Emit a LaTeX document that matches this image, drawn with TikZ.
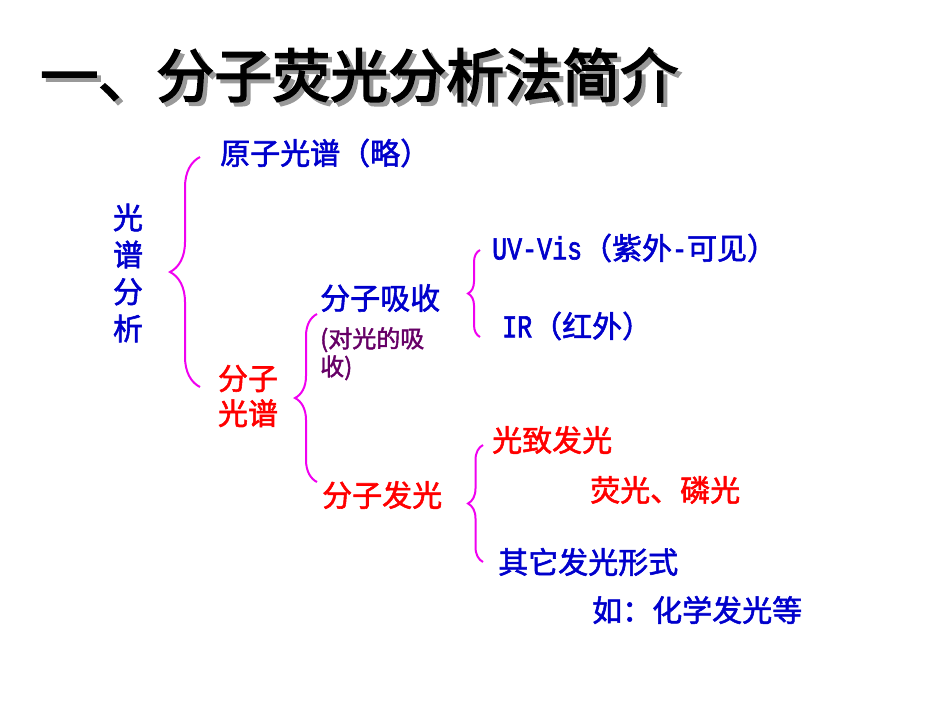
\documentclass[tikz,border=0pt]{standalone}
\usepackage{fontspec}
\usetikzlibrary{decorations.pathreplacing}
\newfontfamily\cjk{Noto Sans CJK SC}[FakeBold=1.8]
\newfontfamily\cjktitle{Noto Sans CJK SC}[FakeBold=3]
\newfontfamily\latmono{Liberation Mono}[FakeBold=2, FakeStretch=0.78]
\definecolor{SpecBlue}{RGB}{0,0,204}
\definecolor{SpecRed}{RGB}{255,0,0}
\definecolor{SpecPurple}{RGB}{102,0,102}
\definecolor{SpecBrace}{RGB}{240,0,240}
\newcommand{\monotxt}[1]{{\latmono\fontsize{32}{36}\selectfont #1}}
\tikzset{
  titletext/.style={anchor=west, inner sep=0pt, font=\cjktitle\fontsize{58}{62}\selectfont},
  item/.style={anchor=west, inner sep=0pt, font=\cjk\fontsize{30}{36}\selectfont},
  bluetext/.style={item, text=SpecBlue},
  redtext/.style={item, text=SpecRed},
  note/.style={anchor=north west, inner sep=0pt, align=left, text=SpecPurple,
    font=\cjk\fontsize{24}{28}\selectfont},
  curly/.style={draw=SpecBrace, line width=2pt, decorate,
    decoration={brace, amplitude=#1}},
}
\begin{document}
\begin{tikzpicture}[x=1pt,y=-1pt]
  \useasboundingbox (0,0) rectangle (950,713);

  % ----- title with shadow -----
  \node[titletext, text=black!40] (titleShade) at (44,79) {一、分子荧光分析法简介};
  \node[titletext] (title) at (40,75) {一、分子荧光分析法简介};

  % ----- texts -----
  \node[bluetext, anchor=center, align=center, font=\cjk\fontsize{30}{37}\selectfont]
    (specAna) at (128,273) {光\\谱\\分\\析};
  \node[bluetext] (atomSpec) at (220,153) {原子光谱（略）};
  \node[redtext, anchor=center, align=center, font=\cjk\fontsize{30}{35}\selectfont]
    (molSpec) at (248,396) {分子\\光谱};
  \node[bluetext] (molAbs) at (320,298) {分子吸收};
  \node[note] (absNote) at (320,327) {(对光的吸\\收)};
  \node[bluetext] (uvVis) at (492,248) {\monotxt{UV-Vis}（紫外\monotxt{-}可见）};
  \node[bluetext] (irLine) at (502,326) {\monotxt{IR}（红外）};
  \node[redtext] (molEmi) at (322,495) {分子发光};
  \node[redtext] (photoLum) at (492,440) {光致发光};
  \node[redtext] (fluPhos) at (590,490) {荧光、磷光};
  \node[bluetext] (otherLum) at (498,562) {其它发光形式};
  \node[bluetext] (chemLum) at (592,610) {如：化学发光等};

  % ----- braces -----
  \coordinate (braceAtop) at (200,157);
  \coordinate (braceAbot) at (200,387);
  \coordinate (braceBtop) at (317,314);
  \coordinate (braceBbot) at (317,482);
  \coordinate (braceCtop) at (480,250);
  \coordinate (braceCbot) at (480,337);
  \coordinate (braceDtop) at (483,445);
  \coordinate (braceDbot) at (483,562);
  \draw[curly=30pt] (braceAbot) -- (braceAtop);
  \draw[curly=22pt] (braceBbot) -- (braceBtop);
  \draw[curly=12pt] (braceCbot) -- (braceCtop);
  \draw[curly=15pt] (braceDbot) -- (braceDtop);
\end{tikzpicture}
\end{document}
